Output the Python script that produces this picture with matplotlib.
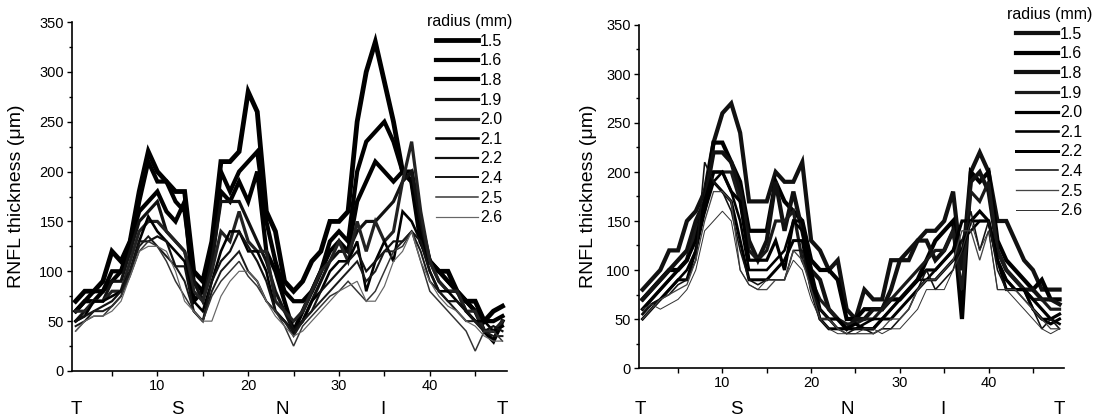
import matplotlib
matplotlib.use("Agg")
import matplotlib.pyplot as plt
from matplotlib.ticker import MultipleLocator
from matplotlib.transforms import blended_transform_factory

plt.rcParams['font.family'] = ['Liberation Sans', 'DejaVu Sans']

positions = list(range(1, 49))
radii = ['1.5', '1.6', '1.8', '1.9', '2.0', '2.1', '2.2', '2.4', '2.5', '2.6']
sector_labels = ['T', 'S', 'N', 'I', 'T']
left_sector_pos = [1.1, 12.2, 23.8, 34.8, 48.0]
right_sector_pos = [0.7, 11.6, 24.1, 34.8, 48.0]

# Left panel
left_1_5 = [70, 80, 80, 90, 120, 110, 130, 180, 220, 200, 190, 180,
            180, 100, 90, 130, 210, 210, 220, 280, 260, 160, 140, 90,
            80, 90, 110, 120, 150, 150, 160, 250, 300, 330, 290, 250,
            200, 190, 130, 110, 100, 100, 80, 70, 70, 50, 60, 65]
left_1_6 = [60, 70, 80, 80, 100, 100, 120, 170, 210, 190, 190, 170,
            160, 90, 80, 120, 200, 180, 200, 210, 220, 150, 110, 80,
            70, 70, 80, 100, 130, 140, 130, 200, 230, 240, 250, 230,
            200, 190, 140, 110, 100, 90, 80, 70, 60, 50, 50, 55]
left_1_8 = [60, 70, 70, 80, 90, 100, 130, 160, 170, 180, 160, 150,
            170, 70, 80, 110, 180, 170, 190, 170, 200, 120, 100, 70,
            40, 60, 80, 100, 120, 130, 120, 170, 190, 210, 200, 190,
            200, 200, 150, 110, 100, 90, 80, 70, 60, 40, 30, 50]
left_1_9 = [50, 60, 70, 70, 90, 90, 120, 150, 160, 170, 140, 130,
            120, 90, 70, 110, 170, 170, 170, 150, 130, 110, 80, 60,
            40, 50, 70, 90, 110, 120, 120, 140, 150, 150, 160, 170,
            190, 200, 150, 110, 90, 80, 80, 60, 50, 40, 40, 45]
left_2_0 = [60, 60, 70, 70, 80, 80, 110, 140, 150, 150, 140, 130,
            120, 80, 70, 100, 140, 130, 160, 130, 120, 120, 70, 60,
            50, 60, 80, 100, 110, 130, 110, 150, 120, 150, 130, 140,
            190, 230, 160, 110, 90, 80, 80, 60, 60, 40, 40, 50]
left_2_1 = [50, 55, 70, 70, 75, 80, 100, 130, 155, 140, 130, 120,
            110, 70, 60, 90, 120, 140, 140, 120, 120, 100, 60, 50,
            40, 50, 70, 80, 100, 110, 110, 130, 80, 110, 130, 110,
            160, 150, 130, 100, 80, 80, 70, 60, 50, 50, 40, 45]
left_2_2 = [50, 55, 60, 65, 70, 80, 100, 130, 130, 135, 130, 105,
            105, 60, 50, 90, 110, 120, 140, 125, 110, 90, 60, 50,
            40, 50, 60, 80, 90, 100, 110, 120, 100, 110, 120, 130,
            130, 140, 130, 100, 80, 70, 70, 60, 50, 40, 45, 40]
left_2_4 = [45, 50, 60, 60, 65, 75, 100, 125, 135, 125, 115, 105,
            90, 60, 50, 80, 100, 110, 120, 100, 90, 70, 60, 50,
            35, 50, 60, 70, 80, 90, 100, 110, 90, 100, 120, 120,
            130, 140, 120, 90, 80, 70, 60, 50, 50, 40, 35, 35]
left_2_5 = [40, 50, 55, 55, 65, 75, 95, 120, 130, 125, 110, 90,
            75, 60, 50, 75, 90, 100, 110, 95, 85, 70, 60, 45,
            25, 45, 55, 65, 75, 80, 90, 80, 70, 80, 100, 120,
            125, 140, 110, 80, 70, 60, 50, 40, 20, 40, 40, 30]
left_2_6 = [40, 50, 55, 55, 60, 70, 95, 120, 125, 125, 120, 100,
            70, 60, 50, 50, 75, 90, 100, 100, 90, 70, 55, 45,
            35, 40, 50, 60, 70, 80, 85, 90, 70, 70, 85, 110,
            120, 140, 110, 90, 75, 65, 60, 50, 45, 35, 30, 30]

# Right panel
right_1_5 = [80, 90, 100, 120, 120, 150, 160, 180, 230, 260, 270, 240,
             170, 170, 170, 200, 190, 190, 210, 130, 120, 100, 110, 60,
             50, 80, 70, 70, 110, 110, 110, 130, 140, 140, 150, 180,
             100, 200, 220, 200, 150, 150, 130, 110, 100, 80, 80, 80]
right_1_6 = [70, 80, 90, 100, 100, 110, 140, 170, 230, 230, 210, 190,
             140, 140, 140, 190, 170, 160, 150, 110, 100, 100, 90, 50,
             50, 60, 60, 60, 70, 70, 80, 90, 110, 130, 140, 150,
             50, 200, 190, 200, 130, 110, 100, 90, 80, 90, 70, 70]
right_1_8 = [70, 80, 90, 100, 110, 120, 150, 170, 220, 220, 210, 180,
             130, 110, 130, 190, 140, 180, 140, 100, 90, 60, 50, 40,
             50, 50, 60, 60, 80, 110, 120, 130, 130, 110, 120, 140,
             100, 190, 200, 180, 120, 100, 90, 80, 80, 70, 70, 65]
right_1_9 = [60, 70, 80, 90, 100, 110, 140, 160, 200, 200, 200, 170,
             120, 110, 120, 150, 150, 160, 110, 90, 70, 60, 50, 45,
             45, 50, 50, 60, 70, 80, 90, 100, 110, 120, 120, 140,
             80, 180, 170, 190, 120, 100, 90, 80, 70, 70, 60, 60]
right_2_0 = [60, 70, 80, 90, 100, 110, 130, 170, 200, 200, 180, 170,
             110, 110, 110, 130, 100, 150, 150, 100, 60, 50, 50, 40,
             45, 40, 40, 50, 60, 70, 80, 90, 100, 100, 110, 120,
             150, 150, 160, 150, 110, 90, 80, 80, 70, 60, 50, 55]
right_2_1 = [55, 65, 70, 80, 90, 100, 120, 170, 190, 200, 180, 150,
             100, 100, 100, 110, 120, 150, 140, 90, 50, 50, 40, 40,
             40, 45, 50, 50, 60, 70, 80, 90, 90, 100, 110, 120,
             130, 140, 150, 150, 110, 90, 80, 80, 60, 50, 50, 45]
right_2_2 = [50, 60, 70, 80, 90, 90, 120, 160, 190, 180, 170, 130,
             90, 90, 90, 100, 110, 130, 130, 80, 50, 40, 40, 40,
             40, 40, 40, 50, 50, 60, 70, 80, 90, 90, 100, 110,
             120, 150, 150, 150, 110, 80, 80, 80, 60, 50, 45, 50]
right_2_4 = [55, 65, 70, 75, 85, 90, 110, 210, 190, 180, 160, 120,
             90, 85, 90, 90, 90, 120, 120, 80, 60, 50, 40, 35,
             40, 40, 35, 40, 40, 50, 60, 80, 100, 80, 90, 100,
             130, 160, 120, 150, 100, 80, 80, 70, 60, 40, 50, 40]
right_2_5 = [50, 60, 70, 75, 80, 85, 110, 150, 180, 180, 170, 100,
             85, 80, 80, 90, 90, 120, 110, 80, 50, 50, 40, 35,
             35, 35, 35, 40, 50, 50, 60, 80, 90, 90, 100, 110,
             140, 140, 110, 140, 80, 80, 80, 70, 60, 50, 40, 40]
right_2_6 = [60, 65, 60, 65, 70, 80, 100, 140, 150, 160, 150, 100,
             85, 80, 90, 90, 90, 110, 100, 70, 50, 40, 35, 35,
             35, 40, 40, 35, 40, 40, 50, 60, 80, 80, 80, 100,
             120, 150, 120, 140, 80, 80, 70, 60, 50, 40, 35, 40]

left_series = [left_1_5, left_1_6, left_1_8, left_1_9, left_2_0,
               left_2_1, left_2_2, left_2_4, left_2_5, left_2_6]
right_series = [right_1_5, right_1_6, right_1_8, right_1_9, right_2_0,
                right_2_1, right_2_2, right_2_4, right_2_5, right_2_6]

# styles (widths in pixels -> points)
left_widths_px = [4.8, 4.2, 4.2, 3.2, 3.2, 2.6, 2.2, 2.0, 1.5, 1.2]
left_colors = ['#000000', '#000000', '#000000', '#111111', '#222222',
               '#000000', '#111111', '#1a1a1a', '#333333', '#666666']
right_widths_px = [4.2, 4.2, 4.2, 3.2, 3.2, 2.6, 3.0, 1.6, 1.3, 1.0]
right_colors = ['#111111', '#000000', '#111111', '#1a1a1a', '#000000',
                '#000000', '#000000', '#111111', '#444444', '#333333']

W, H = 1093, 419
fig = plt.figure(figsize=(W / 100, H / 100), dpi=100)


def make_panel(rect, series, widths_px, colors, sector_pos, sector_y,
               legend_anchor, ylabel_x):
    ax = fig.add_axes(rect)
    for s, r, w, c in zip(series, radii, widths_px, colors):
        ax.plot(positions, s, color=c, lw=w * 0.72, label=r,
                solid_joinstyle='miter')
    ax.set_xlim(0.6, 48.5)
    ax.set_ylim(0, 350)
    ax.spines['top'].set_visible(False)
    ax.spines['right'].set_visible(False)
    for sp in ('left', 'bottom'):
        ax.spines[sp].set_linewidth(1.2)
    ax.xaxis.set_major_locator(MultipleLocator(10))
    ax.xaxis.set_minor_locator(MultipleLocator(5))
    ax.yaxis.set_major_locator(MultipleLocator(50))
    ax.yaxis.set_minor_locator(MultipleLocator(25))
    ax.tick_params(axis='both', which='major', direction='out', length=3.8,
                   width=1.0, labelsize=10.5, pad=2)
    ax.tick_params(axis='x', which='minor', direction='out', length=3.8,
                   width=1.0)
    ax.tick_params(axis='y', which='minor', direction='out', length=2.2,
                   width=1.0)
    ax.set_ylabel('RNFL thickness (\u03bcm)', fontsize=14)
    yc = rect[1] + rect[3] / 2
    ax.yaxis.set_label_coords(ylabel_x, yc, transform=fig.transFigure)
    trans = blended_transform_factory(ax.transData, ax.transAxes)
    for lab, xp in zip(sector_labels, sector_pos):
        ax.text(xp, sector_y, lab, transform=trans, ha='center',
                va='center', fontsize=13.5)
    ax.legend(loc='upper right', bbox_to_anchor=legend_anchor,
              bbox_transform=fig.transFigure, frameon=False,
              title='radius (mm)', fontsize=11.5, title_fontsize=11.5,
              handlelength=2.6, handletextpad=0.15,
              labelspacing=0.29, borderpad=0.0, borderaxespad=0.0)
    return ax


make_panel([72 / W, 1 - 371 / H, 435 / W, 349 / H], left_series,
           left_widths_px, left_colors, left_sector_pos, -0.109,
           (512 / W, 1 - 14 / H), 25 / W)
make_panel([639 / W, 1 - 368 / H, 425 / W, 343 / H], right_series,
           right_widths_px, right_colors, right_sector_pos, -0.12,
           (1092 / W, 1 - 7 / H), 597 / W)

fig.savefig('out.png', dpi=100)
